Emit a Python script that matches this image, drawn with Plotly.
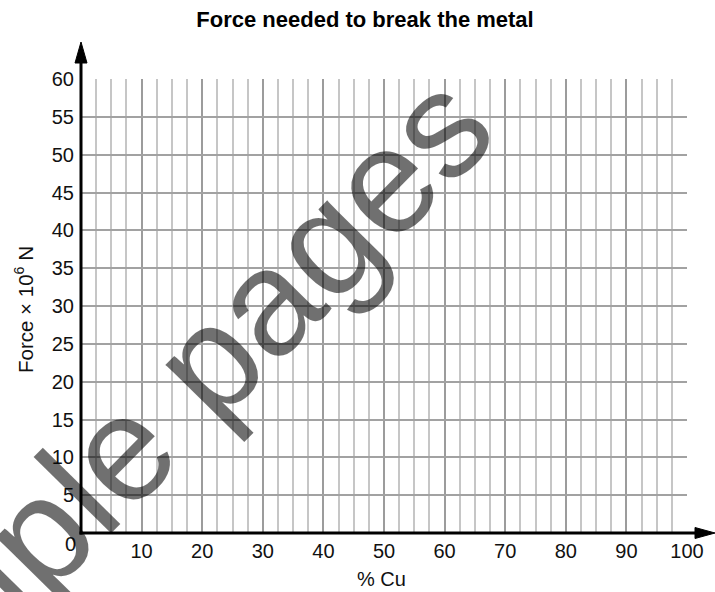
import plotly.graph_objects as go

# ---- data (axis definitions; the chart is an empty grid) ----
x_ticks = [10, 20, 30, 40, 50, 60, 70, 80, 90, 100]
y_ticks = [5, 10, 15, 20, 25, 30, 35, 40, 45, 50, 55, 60]
x_range = [0, 100]
y_range = [0, 60]
x_minor_step = 2.5
title_text = "Force needed to break the metal"
x_title = "% Cu"
y_title = "Force × 10<sup>6</sup> N"
watermark = "Sample pages"

FONT = "Liberation Sans, Arial, Helvetica, sans-serif"

fig = go.Figure()
# invisible trace to establish axes
fig.add_trace(go.Scatter(x=x_range, y=y_range, mode="lines",
                         line=dict(width=0, color="rgba(0,0,0,0)"), hoverinfo="skip", showlegend=False))

fig.update_layout(
    width=715, height=592,
    margin=dict(l=81, r=28, t=79, b=59),
    paper_bgcolor="white", plot_bgcolor="white",
    font=dict(family=FONT, size=20, color="#111"),
    title=dict(text="<b>" + title_text + "</b>", x=365/715, xref="container",
               y=1 - 19/592, yref="container", xanchor="center", yanchor="middle",
               font=dict(family=FONT, size=22, color="#000")),
    showlegend=False,
)

fig.update_xaxes(range=x_range, tickmode="array", tickvals=x_ticks,
                 showgrid=True, gridcolor="#9c9c9c", gridwidth=1.5,
                 minor=dict(tick0=0, dtick=x_minor_step, showgrid=True,
                            gridcolor="#c6c6c6", gridwidth=1.5),
                 zeroline=False, showline=False, ticks="",
                 ticklabelstandoff=4, tickfont=dict(size=20, color="#111"))
fig.update_yaxes(range=y_range, tickmode="array", tickvals=y_ticks,
                 showgrid=True, gridcolor="#a2a2a2", gridwidth=1.5,
                 zeroline=False, showline=False, ticks="",
                 ticklabelstandoff=6, tickfont=dict(size=20, color="#111"))

# axis arrows (paper coordinates)
px_w, px_h = 606.0, 454.0
y_tip = (533 - 42) / px_h
y_base = (533 - 63) / px_h
x_tip = (715 - 81) / px_w
x_base = (695 - 81) / px_w
hw = 6.0 / px_w
hh = 5.5 / px_h

fig.add_shape(type="line", xref="paper", yref="paper", x0=0, y0=-1.5/px_h, x1=0, y1=y_base + 0.005,
              line=dict(color="black", width=3))
fig.add_shape(type="line", xref="paper", yref="paper", x0=-1.5/px_w, y0=0, x1=x_base + 0.005, y1=0,
              line=dict(color="black", width=3))
fig.add_shape(type="path", xref="paper", yref="paper",
              path=f"M {-hw} {y_base} L {hw} {y_base} L 0 {y_tip} Z",
              fillcolor="black", line=dict(color="black", width=1))
fig.add_shape(type="path", xref="paper", yref="paper",
              path=f"M {x_base} {-hh} L {x_base} {hh} L {x_tip} 0 Z",
              fillcolor="black", line=dict(color="black", width=1))

# "0" corner label
fig.add_annotation(text="0", xref="paper", yref="paper", x=(70.5 - 81) / px_w, y=(533 - 544) / px_h,
                   showarrow=False, font=dict(size=20, color="#111"), xanchor="center", yanchor="middle")
# axis titles
fig.add_annotation(text=x_title, xref="paper", yref="paper", x=(381 - 81) / px_w, y=(533 - 579) / px_h,
                   showarrow=False, font=dict(size=20, color="#111"), xanchor="center", yanchor="middle")
fig.add_annotation(text=y_title, xref="paper", yref="paper", x=(24 - 81) / px_w, y=(533 - 310) / px_h,
                   showarrow=False, textangle=-90, font=dict(size=20.5, color="#111"),
                   xanchor="center", yanchor="middle")

# watermark
fig.add_annotation(text=watermark, xref="paper", yref="paper", x=(128 - 81) / px_w, y=(533 - 442) / px_h,
                   showarrow=False, textangle=-45.5,
                   font=dict(family=FONT, size=150, color="rgba(0,0,0,0.56)"),
                   xanchor="center", yanchor="middle")

fig.write_html("out.html", config={"displayModeBar": False},
               post_script="document.body.style.margin='0px';document.body.style.overflow='hidden';")
